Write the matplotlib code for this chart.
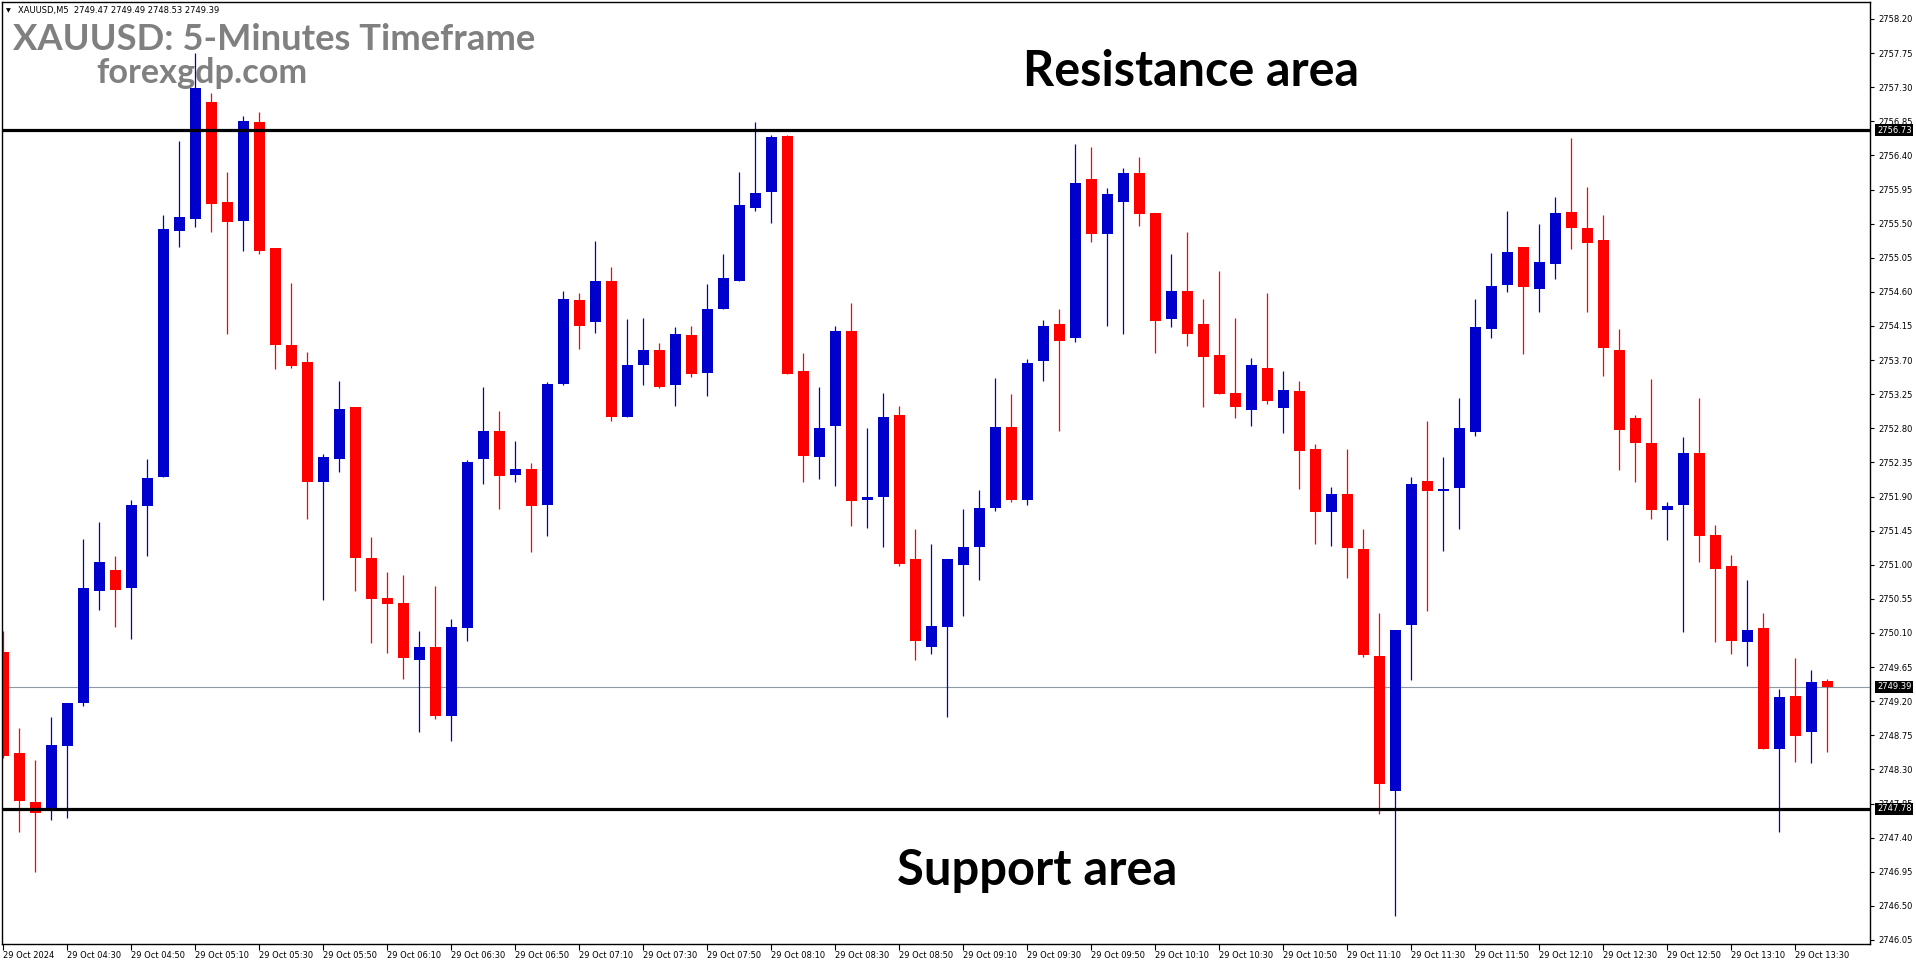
import matplotlib
matplotlib.use('Agg')
import matplotlib.pyplot as plt
import matplotlib.transforms as mtransforms

# XAUUSD M5 candles, 29 Oct 2024 04:10 .. 13:40
opens = [2749.85, 2748.52, 2747.87, 2747.75, 2748.61, 2749.17, 2750.65, 2750.93, 2750.69, 2751.78,
         2752.16, 2755.40, 2755.56, 2757.10, 2755.78, 2755.54, 2756.84, 2755.18, 2753.90, 2753.67,
         2752.09, 2752.40, 2753.08, 2751.09, 2750.56, 2750.50, 2749.75, 2749.91, 2749.00, 2750.17,
         2752.39, 2752.76, 2752.18, 2752.26, 2751.79, 2753.38, 2754.49, 2754.20, 2754.74, 2752.95,
         2753.64, 2753.83, 2753.37, 2754.03, 2753.53, 2754.37, 2754.74, 2755.71, 2755.92, 2756.66,
         2753.55, 2752.42, 2752.83, 2754.08, 2751.86, 2751.90, 2752.97, 2751.07, 2749.92, 2750.18,
         2751.00, 2751.23, 2751.75, 2752.82, 2751.85, 2753.69, 2754.17, 2753.99, 2756.09, 2755.36,
         2755.79, 2756.17, 2755.64, 2754.24, 2754.61, 2754.17, 2753.77, 2753.27, 2753.04, 2753.59,
         2753.07, 2753.29, 2752.53, 2751.69, 2751.94, 2751.21, 2749.80, 2748.01, 2750.20, 2752.10,
         2751.97, 2752.01, 2752.75, 2754.11, 2754.69, 2755.19, 2754.64, 2754.97, 2755.65, 2755.44,
         2755.28, 2753.83, 2752.94, 2752.61, 2751.72, 2751.79, 2752.47, 2751.39, 2750.99, 2749.98,
         2750.17, 2748.57, 2749.27, 2748.80, 2749.47]
highs = [2750.13, 2748.85, 2748.42, 2748.99, 2749.18, 2751.34, 2751.56, 2751.11, 2751.86, 2752.39,
         2755.61, 2756.59, 2757.75, 2757.23, 2756.18, 2756.92, 2756.97, 2755.18, 2754.72, 2753.81,
         2752.46, 2753.42, 2753.08, 2751.37, 2750.91, 2750.87, 2750.13, 2750.72, 2750.29, 2752.38,
         2753.34, 2753.03, 2752.63, 2752.34, 2753.41, 2754.61, 2754.58, 2755.27, 2754.93, 2754.24,
         2754.25, 2753.92, 2754.13, 2754.15, 2754.70, 2755.10, 2756.18, 2756.84, 2756.67, 2756.67,
         2753.79, 2753.34, 2754.15, 2754.45, 2752.80, 2753.27, 2753.10, 2751.47, 2751.28, 2751.07,
         2751.74, 2751.98, 2753.46, 2753.25, 2753.71, 2754.23, 2754.37, 2756.55, 2756.51, 2755.97,
         2756.23, 2756.38, 2755.64, 2755.10, 2755.39, 2754.50, 2754.87, 2754.26, 2753.73, 2754.58,
         2753.56, 2753.42, 2752.59, 2752.02, 2752.53, 2751.47, 2750.37, 2750.14, 2752.16, 2752.90,
         2752.42, 2753.20, 2754.51, 2755.11, 2755.67, 2755.19, 2755.50, 2755.85, 2756.63, 2755.99,
         2755.61, 2754.11, 2752.97, 2753.45, 2751.83, 2752.68, 2753.20, 2751.52, 2751.13, 2750.80,
         2750.37, 2749.36, 2749.77, 2749.61, 2749.49]
lows = [2748.45, 2747.47, 2746.95, 2747.63, 2747.66, 2749.14, 2750.40, 2750.18, 2750.02, 2751.12,
        2752.16, 2755.19, 2755.46, 2755.39, 2754.05, 2755.14, 2755.10, 2753.58, 2753.60, 2751.60,
        2750.53, 2752.23, 2750.65, 2749.97, 2749.84, 2749.49, 2748.79, 2748.96, 2748.68, 2749.99,
        2752.07, 2751.73, 2752.09, 2751.17, 2751.38, 2753.37, 2753.85, 2754.06, 2752.90, 2752.95,
        2753.37, 2753.33, 2753.09, 2753.48, 2753.22, 2754.37, 2754.74, 2755.67, 2755.51, 2753.52,
        2752.09, 2752.13, 2752.04, 2751.51, 2751.48, 2751.23, 2750.98, 2749.75, 2749.82, 2748.99,
        2750.32, 2750.80, 2751.71, 2751.83, 2751.79, 2753.42, 2752.76, 2753.94, 2755.26, 2754.15,
        2754.04, 2755.47, 2753.80, 2754.14, 2753.88, 2753.08, 2753.25, 2752.93, 2752.83, 2753.12,
        2752.74, 2752.00, 2751.27, 2751.25, 2750.82, 2749.78, 2747.71, 2746.37, 2749.48, 2750.39,
        2751.18, 2751.47, 2752.70, 2753.99, 2754.60, 2753.78, 2754.34, 2754.77, 2755.17, 2754.33,
        2753.49, 2752.25, 2752.09, 2751.61, 2751.33, 2750.11, 2751.04, 2749.98, 2749.82, 2749.66,
        2748.57, 2747.48, 2748.40, 2748.38, 2748.53]
closes = [2748.48, 2747.88, 2747.73, 2748.62, 2749.17, 2750.69, 2751.03, 2750.67, 2751.79, 2752.15,
          2755.43, 2755.59, 2757.29, 2755.76, 2755.52, 2756.85, 2755.14, 2753.90, 2753.62, 2752.09,
          2752.42, 2753.05, 2751.09, 2750.55, 2750.48, 2749.77, 2749.91, 2749.00, 2750.18, 2752.35,
          2752.76, 2752.17, 2752.26, 2751.78, 2753.38, 2754.50, 2754.15, 2754.74, 2752.95, 2753.63,
          2753.83, 2753.35, 2754.04, 2753.52, 2754.38, 2754.78, 2755.75, 2755.90, 2756.64, 2753.52,
          2752.43, 2752.81, 2754.08, 2751.84, 2751.90, 2752.95, 2751.01, 2750.00, 2750.19, 2751.07,
          2751.24, 2751.75, 2752.82, 2751.86, 2753.66, 2754.15, 2753.95, 2756.03, 2755.36, 2755.89,
          2756.17, 2755.63, 2754.22, 2754.61, 2754.05, 2753.74, 2753.25, 2753.08, 2753.63, 2753.16,
          2753.30, 2752.50, 2751.69, 2751.94, 2751.22, 2749.81, 2748.11, 2750.14, 2752.07, 2751.97,
          2752.00, 2752.80, 2754.13, 2754.68, 2755.12, 2754.66, 2754.99, 2755.64, 2755.44, 2755.24,
          2753.86, 2752.78, 2752.60, 2751.72, 2751.77, 2752.47, 2751.38, 2750.95, 2749.99, 2750.14,
          2748.57, 2749.26, 2748.74, 2749.45, 2749.39]

resistance = 2756.73
support = 2747.78
last_price = 2749.39

price_ticks = ['2758.20', '2757.75', '2757.30', '2756.85', '2756.40', '2755.95', '2755.50',
               '2755.05', '2754.60', '2754.15', '2753.70', '2753.25', '2752.80', '2752.35',
               '2751.90', '2751.45', '2751.00', '2750.55', '2750.10', '2749.65', '2749.20',
               '2748.75', '2748.30', '2747.85', '2747.40', '2746.95', '2746.50', '2746.05']
time_ticks = ['29 Oct 2024', '29 Oct 04:30', '29 Oct 04:50', '29 Oct 05:10', '29 Oct 05:30',
              '29 Oct 05:50', '29 Oct 06:10', '29 Oct 06:30', '29 Oct 06:50', '29 Oct 07:10',
              '29 Oct 07:30', '29 Oct 07:50', '29 Oct 08:10', '29 Oct 08:30', '29 Oct 08:50',
              '29 Oct 09:10', '29 Oct 09:30', '29 Oct 09:50', '29 Oct 10:10', '29 Oct 10:30',
              '29 Oct 10:50', '29 Oct 11:10', '29 Oct 11:30', '29 Oct 11:50', '29 Oct 12:10',
              '29 Oct 12:30', '29 Oct 12:50', '29 Oct 13:10', '29 Oct 13:30']
header = 'XAUUSD,M5  2749.47 2749.49 2748.53 2749.39'

W_PX, H_PX = 1916, 964
BULL = '#0000CD'
BEAR = '#FF0000'


def px_rect(x0, y0, x1, y1):
    return [x0 / W_PX, 1 - y1 / H_PX, (x1 - x0) / W_PX, (y1 - y0) / H_PX]


def draw_candles(ax):
    idx = list(range(len(opens)))
    cols = [BULL if c >= o else BEAR for o, c in zip(opens, closes)]
    ax.vlines(idx, lows, highs, colors=cols, linewidth=0.9, zorder=2)
    bottoms = [min(o, c) for o, c in zip(opens, closes)]
    heights = [max(abs(c - o), 0.025) for o, c in zip(opens, closes)]
    ax.bar(idx, heights, bottom=bottoms, width=0.68, color=cols,
           linewidth=0, zorder=2.5)


def add_levels(ax):
    ax.axhline(last_price, color='#8c9aa6', linewidth=0.8, zorder=1)
    ax.axhline(resistance, color='black', linewidth=2.3, zorder=3)
    ax.axhline(support, color='black', linewidth=2.3, zorder=3)
    trans = mtransforms.blended_transform_factory(ax.transAxes, ax.transData)
    for level in (resistance, support, last_price):
        ax.text(1.0037, level, '%.2f' % level, transform=trans, color='white',
                fontsize=6, va='center', ha='left', zorder=10, clip_on=False,
                bbox=dict(boxstyle='square,pad=0.18', fc='black', ec='none'))


def format_axes(ax):
    ax.set_xlim(-0.08, 116.66)
    ax.set_ylim(2745.997, 2758.424)
    ax.yaxis.tick_right()
    ax.set_yticks([float(t) for t in price_ticks])
    ax.set_yticklabels(price_ticks)
    ax.set_xticks(list(range(0, 4 * len(time_ticks), 4)))
    ax.set_xticklabels(time_ticks)
    ax.tick_params(axis='y', direction='out', length=3, width=0.8, pad=3,
                   labelsize=6)
    ax.tick_params(axis='x', direction='out', length=4, width=0.8, pad=1,
                   labelsize=6)
    for lab in ax.get_xticklabels():
        lab.set_ha('left')
    for spine in ax.spines.values():
        spine.set_linewidth(1.0)
        spine.set_color('black')


def fit_width(fig, text, width_px):
    renderer = fig.canvas.get_renderer()
    bb = text.get_window_extent(renderer)
    text.set_fontsize(text.get_fontsize() * width_px / bb.width)


def add_text(fig):
    fig.text(6 / W_PX, 1 - 11 / H_PX, '\u25bc', fontsize=4.5, va='center')
    fig.text(18 / W_PX, 1 - 11 / H_PX, header, fontsize=6, va='center')
    specs = [
        ('XAUUSD: 5-Minutes Timeframe', 13, 50, 522, '#808080'),
        ('forexgdp.com', 96, 83, 211, '#808080'),
        ('Resistance area', 1023, 86, 337, 'black'),
        ('Support area', 897, 885, 280, 'black'),
    ]
    for label, x, y, width, color in specs:
        t = fig.text(x / W_PX, 1 - y / H_PX, label, color=color, fontsize=24,
                     fontweight='bold', family='Lato', va='baseline', ha='left')
        fit_width(fig, t, width)


def main():
    fig = plt.figure(figsize=(W_PX / 100, H_PX / 100), dpi=100)
    fig.patch.set_facecolor('white')
    ax = fig.add_axes(px_rect(2, 2, 1870, 944))
    draw_candles(ax)
    add_levels(ax)
    format_axes(ax)
    add_text(fig)
    fig.savefig('out.png', dpi=100, facecolor='white')


if __name__ == '__main__':
    main()
